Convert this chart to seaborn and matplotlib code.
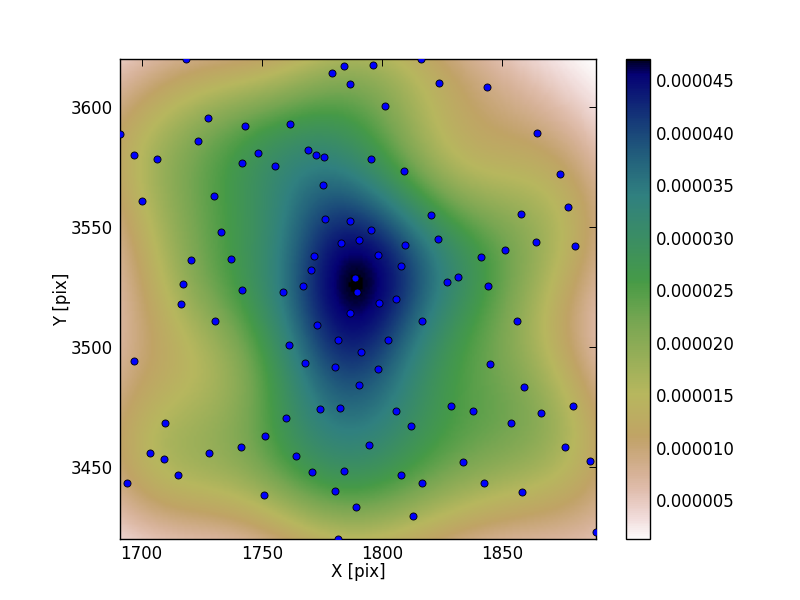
import numpy as np
import pandas as pd
import matplotlib
matplotlib.use("Agg")
import matplotlib.pyplot as plt
import seaborn as sns

# star positions
x_pix = [1718.6, 1784.0, 1779.0, 1786.5, 1727.4, 1742.8, 1761.9, 1691.2, 1723.6, 1769.4,
         1748.6, 1772.4, 1775.7, 1697.0, 1706.5, 1741.9, 1755.3, 1775.3, 1729.9, 1700.3,
         1776.1, 1786.5, 1733.2, 1782.8, 1790.3, 1771.5, 1720.7, 1737.0, 1770.3, 1788.6,
         1717.4, 1741.9, 1758.6, 1767.0, 1789.4,
         1796.1, 1816.1, 1823.6, 1843.6, 1801.1, 1864.4, 1795.3, 1809.0, 1874.0, 1877.4,
         1820.3, 1857.8, 1795.3, 1809.6, 1823.2, 1864.0, 1880.3, 1851.1, 1841.1, 1798.2,
         1807.8, 1831.5, 1827.0, 1844.0, 1805.7,
         1716.5, 1730.7, 1786.5, 1772.8, 1781.5, 1761.1, 1791.1, 1696.9, 1767.8, 1780.3,
         1790.3, 1782.4, 1774.0, 1709.9, 1759.9, 1751.5, 1741.5, 1728.2, 1703.6, 1709.4,
         1764.4, 1770.7, 1784.0, 1715.3, 1694.0, 1750.7, 1780.3, 1789.0, 1781.5,
         1798.6, 1816.5, 1856.1, 1802.4, 1798.2, 1844.9, 1859.0, 1805.7, 1828.6, 1837.8,
         1866.1, 1879.4, 1811.9, 1853.6, 1794.4, 1876.1, 1833.6, 1886.5, 1807.8, 1816.5,
         1842.4, 1858.2, 1812.8, 1889.0]
y_pix = [3620.0, 3617.1, 3614.2, 3609.6, 3595.4, 3592.1, 3592.9, 3588.8, 3585.8, 3582.1,
         3580.8, 3580.0, 3579.2, 3580.0, 3578.3, 3576.7, 3575.4, 3567.5, 3562.9, 3560.8,
         3553.3, 3552.5, 3547.9, 3543.3, 3544.6, 3537.9, 3536.3, 3536.7, 3532.1, 3528.8,
         3526.3, 3523.8, 3522.9, 3525.4, 3522.9,
         3617.5, 3620.0, 3610.0, 3608.3, 3600.4, 3589.2, 3578.3, 3573.3, 3572.1, 3558.3,
         3555.0, 3555.4, 3548.8, 3542.5, 3545.0, 3543.8, 3542.1, 3540.4, 3537.5, 3538.3,
         3533.8, 3529.2, 3527.1, 3525.4, 3520.0,
         3517.9, 3510.8, 3514.2, 3509.2, 3502.9, 3501.2, 3497.9, 3494.2, 3493.3, 3491.7,
         3484.2, 3474.6, 3474.2, 3468.7, 3470.4, 3462.9, 3458.7, 3456.2, 3455.8, 3453.7,
         3454.6, 3447.9, 3448.3, 3446.7, 3443.7, 3438.7, 3440.0, 3433.3, 3420.0,
         3518.7, 3511.2, 3510.8, 3502.9, 3491.2, 3492.9, 3483.3, 3473.7, 3475.4, 3473.3,
         3472.5, 3475.4, 3467.1, 3468.3, 3459.2, 3458.7, 3452.1, 3452.5, 3446.7, 3443.7,
         3443.3, 3439.6, 3429.6, 3422.9]

x_ticks = [1700, 1750, 1800, 1850]
y_ticks = [3450, 3500, 3550, 3600]
cbar_ticks = [0.000005, 0.000010, 0.000015, 0.000020, 0.000025,
              0.000030, 0.000035, 0.000040, 0.000045]
dens_min = 0.00000126
dens_max = 0.0000470

df = pd.DataFrame({'x': x_pix, 'y': y_pix})

sns.set_style("white")
plt.rcParams.update({'font.family': 'DejaVu Sans', 'font.size': 12,
                     'axes.edgecolor': 'black', 'text.color': 'black',
                     'axes.labelcolor': 'black', 'xtick.color': 'black',
                     'ytick.color': 'black', 'axes.linewidth': 1.0})

fig = plt.figure(figsize=(8, 6), dpi=100)
ax = fig.add_axes([0.15, 0.101, 0.595, 0.8])
cax = fig.add_axes([0.7825, 0.101, 0.03, 0.8])

# gaussian kde of the stars (scott bandwidth), evaluated on a grid
pts = df[['x', 'y']].to_numpy()
cov = np.cov(pts.T) * len(pts) ** (-1 / 3)
inv_cov = np.linalg.inv(cov)
gx, gy = np.meshgrid(np.linspace(1691, 1889, 200), np.linspace(3420, 3620, 200))
grid = np.stack([gx.ravel(), gy.ravel()], axis=1)
diff = grid[:, None, :] - pts[None, :, :]
expo = np.einsum('ijk,kl,ijl->ij', diff, inv_cov, diff)
dens = np.exp(-0.5 * expo).sum(axis=1) / (len(pts) * 2 * np.pi * np.sqrt(np.linalg.det(cov)))
dens = dens.reshape(gx.shape)

im = ax.imshow(dens, origin='lower', extent=(1691, 1889, 3420, 3620), aspect='auto',
               cmap='gist_earth_r', vmin=dens_min, vmax=dens_max)
sns.scatterplot(data=df, x='x', y='y', color=(0, 0, 1), s=26, edgecolor='black',
                linewidth=0.6, ax=ax, zorder=5)

ax.set_xlim(1691, 1889)
ax.set_ylim(3420, 3620)
ax.set_xticks(x_ticks)
ax.set_yticks(y_ticks)
ax.tick_params(direction='in', length=5, width=0.7, top=True, right=True, labelsize=12, pad=5)
ax.tick_params(axis='x', pad=4)
ax.set_xlabel('X [pix]', fontsize=12, labelpad=0)
ax.set_ylabel('Y [pix]', fontsize=12, labelpad=0)

cbar = fig.colorbar(im, cax=cax, format='%.6f', ticks=cbar_ticks)
cax.tick_params(direction='in', length=5, width=0.7, labelsize=12, right=True, left=False, pad=4)

fig.savefig('out.png', dpi=100)
